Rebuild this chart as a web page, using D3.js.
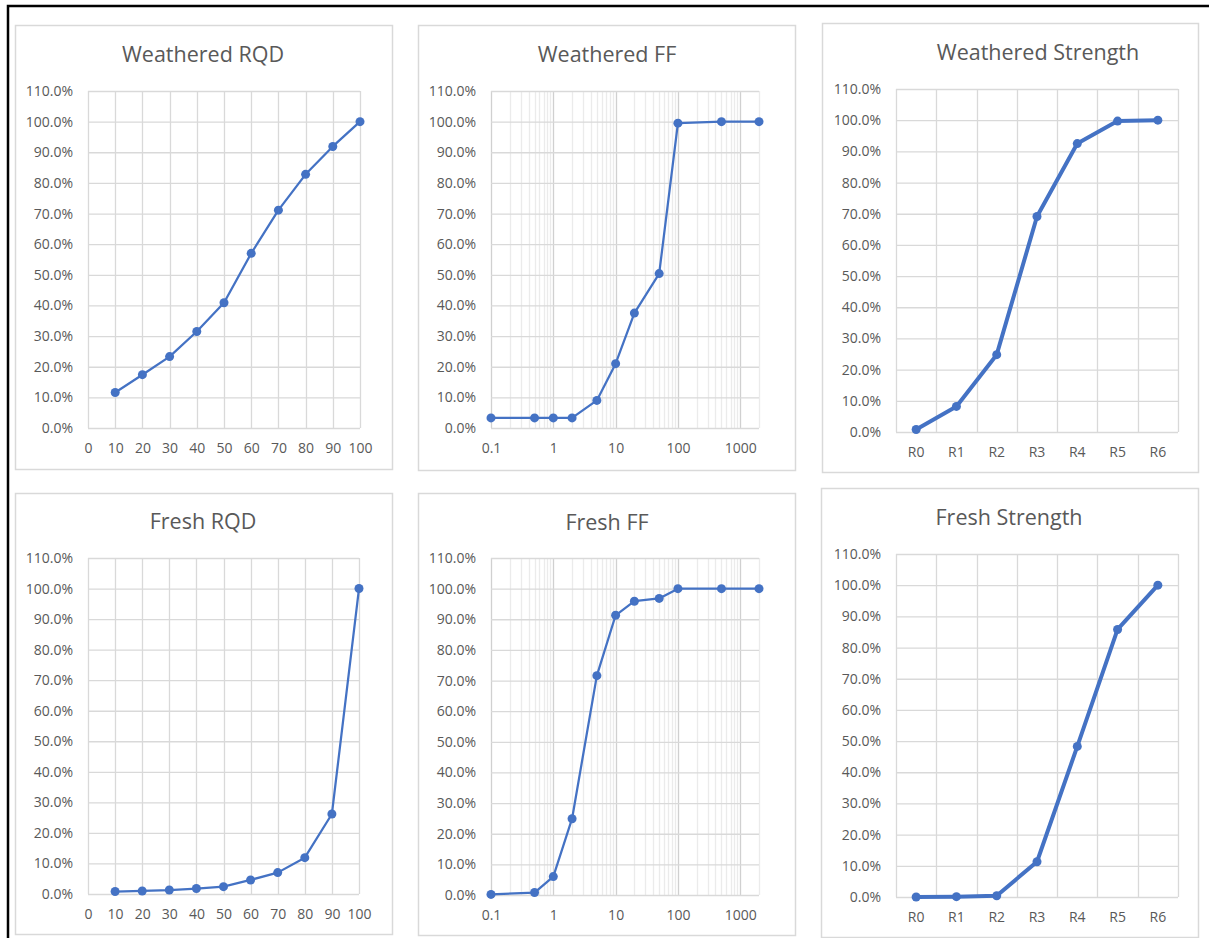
<!DOCTYPE html>
<html>
<head>
<meta charset="utf-8">
<script src="https://cdn.jsdelivr.net/npm/d3@7"></script>
<style>
  body { margin: 0; background: #fff; }
  svg { display: block; }
  text { font-family: "Open Sans", "Noto Sans", sans-serif; }
</style>
</head>
<body>
<svg id="chart" width="1209" height="938"></svg>
<script>
// percent axis ticks (shared by all panels)
const pctTicks = [0, 0.1, 0.2, 0.3, 0.4, 0.5, 0.6, 0.7, 0.8, 0.9, 1.0, 1.1];

// RQD panels
const rqdTicks = [0, 10, 20, 30, 40, 50, 60, 70, 80, 90, 100];
const rqdBins = [10, 20, 30, 40, 50, 60, 70, 80, 90, 100];
const weatheredRQD = [0.116, 0.174, 0.233, 0.315, 0.409, 0.570, 0.711, 0.828, 0.919, 1.0];
const freshRQD = [0.008, 0.010, 0.013, 0.018, 0.024, 0.046, 0.070, 0.119, 0.262, 1.0];

// FF panels (log x)
const ffTicks = [0.1, 1, 10, 100, 1000];
const ffBins = [0.1, 0.5, 1, 2, 5, 10, 20, 50, 100, 500, 2000];
const weatheredFF = [0.033, 0.033, 0.033, 0.033, 0.090, 0.210, 0.375, 0.504, 0.995, 1.0, 1.0];
const freshFF = [0.002, 0.008, 0.060, 0.249, 0.716, 0.913, 0.959, 0.968, 1.0, 1.0, 1.0];

// Strength panels (categories)
const strengthClasses = ['R0', 'R1', 'R2', 'R3', 'R4', 'R5', 'R6'];
const weatheredStrength = [0.008, 0.082, 0.248, 0.691, 0.925, 0.997, 1.0];
const freshStrength = [0.0, 0.001, 0.004, 0.113, 0.483, 0.858, 1.0];

let blue = '#4472C4';
let grid = '#d9d9d9';
let minorGrid = '#ebebeb';
let labelCol = '#595959';
let tickFont = '14px';

let svg = d3.select('#chart');

// layout of each chart: outer box, plot area, title anchor
let panels = [
  {title: 'Weathered RQD', kind: 'rqd', xs: rqdBins, ys: weatheredRQD,
   box: [15, 25, 392, 469], plot: [88, 91, 360, 428], titleAt: [203, 62], lw: 2.25},
  {title: 'Weathered FF', kind: 'ff', xs: ffBins, ys: weatheredFF,
   box: [418, 25, 795, 470], plot: [491, 91, 759, 428], titleAt: [607, 62], lw: 2.25},
  {title: 'Weathered Strength', kind: 'str', xs: strengthClasses, ys: weatheredStrength,
   box: [822, 23, 1198, 472], plot: [896, 89, 1178, 432], titleAt: [1038, 60], lw: 4},
  {title: 'Fresh RQD', kind: 'rqd', xs: rqdBins, ys: freshRQD,
   box: [15, 493, 392, 934], plot: [88, 558, 359, 894], titleAt: [203, 529], lw: 2.25},
  {title: 'Fresh FF', kind: 'ff', xs: ffBins, ys: freshFF,
   box: [418, 493, 795, 935], plot: [491, 558, 759, 895], titleAt: [607, 530], lw: 2.25},
  {title: 'Fresh Strength', kind: 'str', xs: strengthClasses, ys: freshStrength,
   box: [821, 488, 1198, 937], plot: [896, 554, 1178, 897], titleAt: [1009, 525], lw: 4}
];

panels.forEach(drawPanel);

// black frame round the screenshot (top and left edges)
svg.append('path')
  .attr('d', 'M8,938V6H1209')
  .attr('fill', 'none')
  .attr('stroke', '#000')
  .attr('stroke-width', 2.5);

function drawPanel(p) {
  let g = svg.append('g');
  let [bx0, by0, bx1, by1] = p.box;
  let [x0, y0, x1, y1] = p.plot;

  g.append('rect')
    .attr('x', bx0 + 0.5).attr('y', by0 + 0.5)
    .attr('width', bx1 - bx0).attr('height', by1 - by0)
    .attr('fill', '#fff')
    .attr('stroke', grid)
    .attr('stroke-width', 1.5);

  let y = d3.scaleLinear().domain([0, 1.1]).range([y1, y0]);
  let x, xPos;

  if (p.kind === 'rqd') {
    x = d3.scaleLinear().domain([0, 100]).range([x0, x1]);
    xPos = d => x(d);
  } else if (p.kind === 'ff') {
    x = d3.scaleLog().domain([0.1, 2000]).range([x0, x1]);
    xPos = d => x(d);
  } else {
    x = d3.scaleBand().domain(p.xs).range([x0, x1]);
    xPos = d => x(d) + x.bandwidth() / 2;
  }

  // vertical gridlines
  let vLines;
  if (p.kind === 'rqd') {
    vLines = rqdTicks.map(d => ({x: x(d), c: grid}));
  } else if (p.kind === 'ff') {
    let minor = x.ticks().filter(d => !ffTicks.some(t => Math.abs(t - d) < 1e-9));
    vLines = minor.map(d => ({x: x(d), c: minorGrid}))
      .concat(ffTicks.map(d => ({x: x(d), c: '#d0d0d0'})));
  } else {
    vLines = x.domain().map(d => ({x: x(d), c: grid})).concat([{x: x1, c: grid}]);
  }
  g.append('g').selectAll('line')
    .data(vLines)
    .join('line')
    .attr('x1', d => Math.round(d.x) + 0.5).attr('x2', d => Math.round(d.x) + 0.5)
    .attr('y1', y0).attr('y2', y1)
    .attr('stroke', d => d.c)
    .attr('stroke-width', 1.3);

  // horizontal gridlines + y labels
  let yAxis = g.append('g')
    .attr('transform', `translate(${x0},0)`)
    .call(d3.axisLeft(y).tickValues(pctTicks).tickSize(-(x1 - x0)).tickPadding(15)
      .tickFormat(d3.format('.1%')));
  yAxis.select('.domain').remove();
  yAxis.selectAll('line').attr('stroke', grid).attr('stroke-width', 1.3);
  yAxis.selectAll('text')
    .attr('fill', labelCol)
    .style('font-size', tickFont);

  // x labels
  let xAxis = d3.axisBottom(x).tickSize(0).tickPadding(15);
  if (p.kind === 'rqd') xAxis.tickValues(rqdTicks).tickFormat(d3.format('d'));
  if (p.kind === 'ff') xAxis.tickValues(ffTicks).tickFormat(d => d < 1 ? '0.1' : d3.format('d')(d));
  let xg = g.append('g')
    .attr('transform', `translate(0,${y1})`)
    .call(xAxis);
  xg.select('.domain').remove();
  xg.selectAll('text')
    .attr('fill', labelCol)
    .style('font-size', tickFont);

  // title
  g.append('text')
    .attr('x', p.titleAt[0]).attr('y', p.titleAt[1])
    .attr('text-anchor', 'middle')
    .attr('fill', labelCol)
    .style('font-size', '21.5px')
    .text(p.title);

  // series
  let pts = p.xs.map((d, i) => [d, p.ys[i]]);
  let line = d3.line().x(d => xPos(d[0])).y(d => y(d[1]));
  g.append('path')
    .datum(pts)
    .attr('d', line)
    .attr('fill', 'none')
    .attr('stroke', blue)
    .attr('stroke-width', p.lw)
    .attr('stroke-linejoin', 'round');
  g.append('g').selectAll('circle')
    .data(pts)
    .join('circle')
    .attr('cx', d => xPos(d[0]))
    .attr('cy', d => y(d[1]))
    .attr('r', 4.5)
    .attr('fill', blue);
}
</script>
</body>
</html>
